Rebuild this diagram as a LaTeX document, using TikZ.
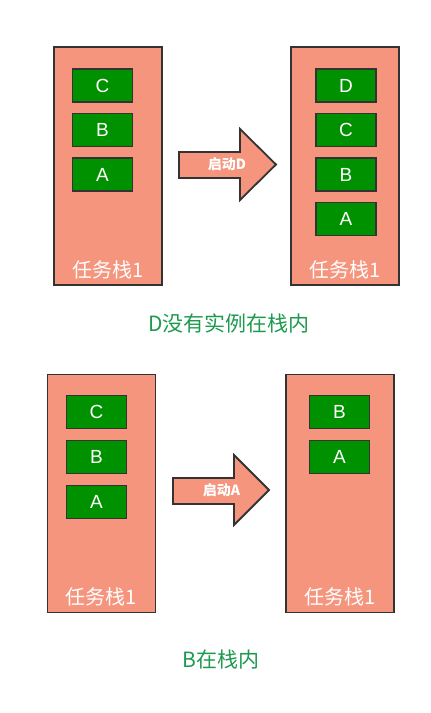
\documentclass[tikz,border=0pt]{standalone}
\usepackage{fontspec}
\setmainfont{Liberation Sans}
\newfontfamily\cjk{Noto Sans CJK SC}
\usepackage{xcolor}
\usetikzlibrary{positioning}
\definecolor{stackc}{HTML}{F5957E}
\definecolor{actc}{HTML}{009100}
\definecolor{edgec}{HTML}{333333}
\definecolor{capc}{HTML}{1E9A50}
\tikzset{
  stack/.style={draw=edgec,line width=1.8pt,fill=stackc,minimum width=108pt,minimum height=238pt,inner sep=0pt},
  act/.style={draw=edgec,line width=1.8pt,fill=actc,text=white,minimum width=60pt,minimum height=33pt,inner sep=0pt,font=\fontsize{19}{19}\selectfont},
  stlabel/.style={text=white,font=\cjk\fontsize{20}{20}\selectfont,inner sep=0pt},
  bigar/.style={draw=edgec,line width=1.8pt,fill=stackc,line join=miter},
  arlabel/.style={text=white,font=\cjk\bfseries\fontsize{14}{14}\selectfont,inner sep=0pt},
  captext/.style={text=capc,font=\cjk\fontsize{21}{21}\selectfont,inner sep=0pt}
}
\begin{document}
\begin{tikzpicture}[x=1pt,y=-1pt]
\useasboundingbox (0,0) rectangle (431,713);
% top: D is not in the stack
\node[stack] (s1) at (108,166) {};
\node[stack] (s2) at (345,166) {};
\foreach \t [count=\i] in {C,B,A}{\node[act] (p\t) at (102.5,{41+44.5*\i}) {\t};}
\foreach \t [count=\i] in {D,C,B,A}{\node[act] (q\t) at (346,{41+44.5*\i}) {\t};}
\node[stlabel] (l1) at (108,270) {任务栈1};
\node[stlabel] (l2) at (345,270) {任务栈1};
\draw[bigar] (179,152) -- (240,152) -- (240,129) -- (276,164.5) -- (240,200) -- (240,178) -- (179,178) -- cycle;
\node[arlabel] (a1) at (227,164.5) {启动D};
\node[captext] (c1) at (229,323) {D没有实例在栈内};
% bottom: B is in the stack
\node[stack] (s3) at (101.5,493.5) {};
\node[stack] (s4) at (340,493.5) {};
\foreach \t [count=\i] in {C,B,A}{\node[act] (u\t) at (96.5,{367+45*\i}) {\t};}
\foreach \t [count=\i] in {B,A}{\node[act] (v\t) at (339.5,{367+45*\i}) {\t};}
\node[stlabel] (l3) at (101.5,597) {任务栈1};
\node[stlabel] (l4) at (340,597) {任务栈1};
\draw[bigar] (173,478) -- (234,478) -- (234,455) -- (269,490) -- (234,525) -- (234,504) -- (173,504) -- cycle;
\node[arlabel] (a2) at (221.5,490) {启动A};
\node[captext] (c2) at (221,660) {B在栈内};
\end{tikzpicture}
\end{document}
